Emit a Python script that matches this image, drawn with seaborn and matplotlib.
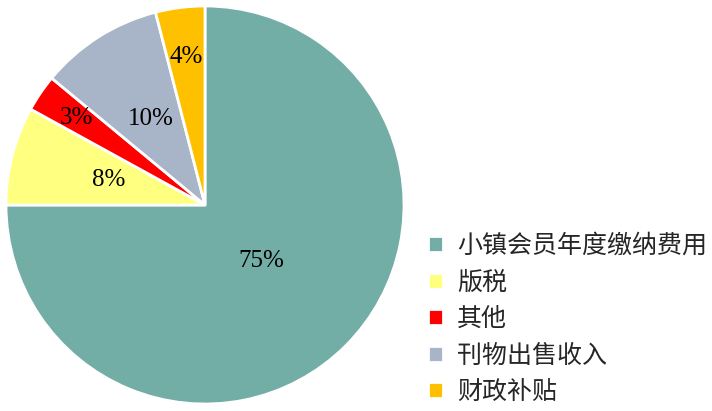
import numpy as np
import matplotlib.pyplot as plt
import seaborn as sns

sns.set_style("white")
plt.rcParams['font.family'] = ['Noto Sans CJK SC', 'DejaVu Sans']

# data
labels = ['小镇会员年度缴纳费用', '版税', '其他', '刊物出售收入', '财政补贴']
shares = [75, 8, 3, 10, 4]
colors = ['#72ADA6', '#FFFF80', '#FF0000', '#A8B4C8', '#FFC000']
# how far out each % label sits (fraction of radius)
label_r = [0.40, 0.50, 0.78, 0.51, 0.75]

fig = plt.figure(figsize=(7.12, 4.11), dpi=100)
ax = fig.add_axes([4 / 712, 5 / 411, 402 / 712, 402 / 411])

wedges, _ = ax.pie(shares, colors=colors, startangle=90, counterclock=False,
                   wedgeprops=dict(edgecolor='white', linewidth=2))
ax.set_xlim(-1.01, 1.01)
ax.set_ylim(-1.01, 1.01)
ax.set_aspect('equal')

for w, s, r in zip(wedges, shares, label_r):
    mid = np.deg2rad((w.theta1 + w.theta2) / 2)
    ax.text(r * np.cos(mid), r * np.sin(mid), f'{s}%', ha='center', va='center',
            fontsize=18, family='Liberation Serif', color='black')

fig.legend(wedges, labels, loc='upper left', bbox_to_anchor=(428 / 712, 1 - 233 / 411),
           frameon=False, fontsize=18, handlelength=0.6, handleheight=0.6,
           handletextpad=0.55, labelspacing=0.42, borderpad=0, borderaxespad=0)

fig.savefig('out.png', dpi=100)
